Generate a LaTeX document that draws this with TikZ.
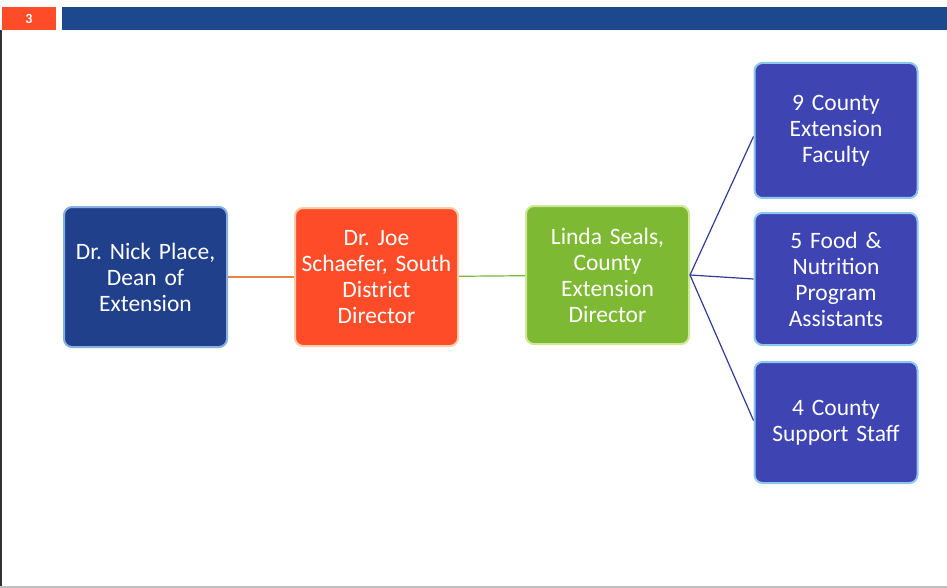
\documentclass[tikz,border=0pt]{standalone}
\usepackage{fontspec}
\setmainfont{Carlito}
\usetikzlibrary{positioning}
\frenchspacing

\definecolor{navy}{RGB}{32,64,140}
\definecolor{navyedge}{RGB}{135,175,228}
\definecolor{flame}{RGB}{255,76,40}
\definecolor{flameedge}{RGB}{250,205,170}
\definecolor{leaf}{RGB}{125,185,50}
\definecolor{leafedge}{RGB}{205,232,150}
\definecolor{indigo}{RGB}{62,68,178}
\definecolor{indigoedge}{RGB}{140,200,235}
\definecolor{barblue}{RGB}{30,72,142}
\definecolor{linkorange}{RGB}{228,135,70}
\definecolor{linkgreen}{RGB}{120,182,60}
\definecolor{linkblue}{RGB}{50,60,150}

\begin{document}
\begin{tikzpicture}[x=1pt, y=-1pt, node distance=66pt,
    box/.style={rectangle, rounded corners=8pt, draw, line width=2pt, text=white,
        align=center, minimum width=163pt, minimum height=138pt,
        text width=160pt, inner xsep=1pt, font=\fontsize{23.5}{26}\selectfont}]
    \useasboundingbox (0,0) rectangle (947,588);
    \fill[white] (0,0) rectangle (947,588);

    % slide header
    \fill[barblue] (62,7) rectangle (947,30);
    \fill[flame] (2,7) rectangle (56,30);
    \node[text=white, font=\fontsize{14}{14}\selectfont\bfseries] (slideno) at (29,18.5) {3};
    \draw[black!80, line width=2pt] (1,30) -- (1,588);
    \draw[black!25, line width=1.5pt] (0,587) -- (947,587);

    % chain of command
    \node[box, fill=navy, draw=navyedge, minimum height=140pt] (place) at (145.5,277) {Dr. Nick Place,\\Dean of\\Extension};
    \node[box, fill=flame, draw=flameedge, right=of place] (schaefer) {Dr. Joe\\Schaefer, South\\District\\Director};
    \node[box, fill=leaf, draw=leafedge, right=of schaefer, yshift=2pt] (seals) {Linda Seals,\\County\\Extension\\Director};

    % county staff
    \node[box, fill=indigo, draw=indigoedge, minimum height=135pt] (faculty) at (836,130.5) {9 County\\Extension\\Faculty};
    \node[box, fill=indigo, draw=indigoedge, minimum height=132pt] (nutrition) at (836,279) {5 Food \&\\Nutrition\\Program\\Assistants};
    \node[box, fill=indigo, draw=indigoedge, minimum height=121pt] (support) at (836,422.5) {4 County\\Support Staff};

    \draw[linkorange, line width=1.2pt] (place) -- (schaefer);
    \draw[linkgreen, line width=1.2pt] (schaefer) -- (seals);
    \draw[linkblue, line width=1.2pt] (seals.east) -- ([yshift=-6pt]faculty.west);
    \draw[linkblue, line width=1.2pt] (seals.east) -- (nutrition.west);
    \draw[linkblue, line width=1.2pt] (seals.east) -- ([yshift=2pt]support.west);
\end{tikzpicture}
\end{document}
